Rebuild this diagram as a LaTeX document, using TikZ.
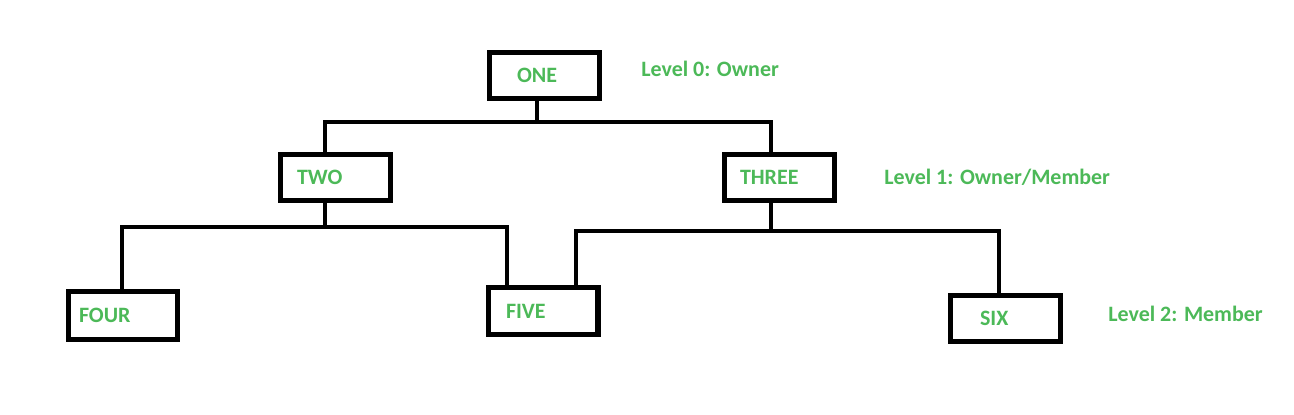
\documentclass[tikz,border=0pt]{standalone}
\usepackage{fontspec}
\setmainfont{Carlito}
\definecolor{lvlgreen}{RGB}{76,185,88}
\tikzset{
  box/.style={draw,line width=2.85pt,minimum width=2.2cm,minimum height=0.92cm,inner xsep=0pt,text width=#1,align=left,font=\bfseries\fontsize{12.5pt}{14pt}\selectfont,text=lvlgreen},
  wire/.style={line width=2.7pt},
  lvl/.style={anchor=west,inner sep=0pt,font=\bfseries\fontsize{12.5pt}{14pt}\selectfont,text=lvlgreen}
}
\begin{document}
\begin{tikzpicture}[x=0.02cm,y=-0.02cm]
\useasboundingbox (0,0) rectangle (1294,414);
\node[box=1.1cm] (one) at (544.5,75.5) {ONE};
\node[box=1.54cm] (two) at (335.5,177) {TWO};
\node[box=1.58cm] (three) at (779.5,177.5) {THREE};
\node[box=1.76cm,minimum height=0.96cm] (four) at (123,315.5) {FOUR};
\node[box=1.48cm,minimum height=0.94cm] (five) at (543,311) {FIVE};
\node[box=1.0cm] (six) at (1005,318) {SIX};
\node[lvl] (lvl0) at (641,69) {Level 0: Owner};
\node[lvl] (lvl1) at (884,177) {Level 1: Owner/Member};
\node[lvl] (lvl2) at (1108,314) {Level 2: Member};
\coordinate (onebus) at (537,122);
\coordinate (twobus) at (325,227);
\coordinate (threebus) at (771,231);
\coordinate (fourbus) at (122,227);
\coordinate (fivebusl) at (507,227);
\coordinate (fivebusr) at (576,231);
\coordinate (sixbus) at (999,231);
\draw[wire] (one.south -| onebus) -- (onebus);
\draw[wire] (two.north -| twobus) |- (onebus -| threebus) -- (three.north -| threebus);
\draw[wire] (two.south -| twobus) -- (twobus);
\draw[wire] (four.north -| fourbus) |- (fivebusl) -- (five.north -| fivebusl);
\draw[wire] (three.south -| threebus) -- (threebus);
\draw[wire] (five.north -| fivebusr) |- (sixbus) -- (six.north -| sixbus);
\end{tikzpicture}
\end{document}
